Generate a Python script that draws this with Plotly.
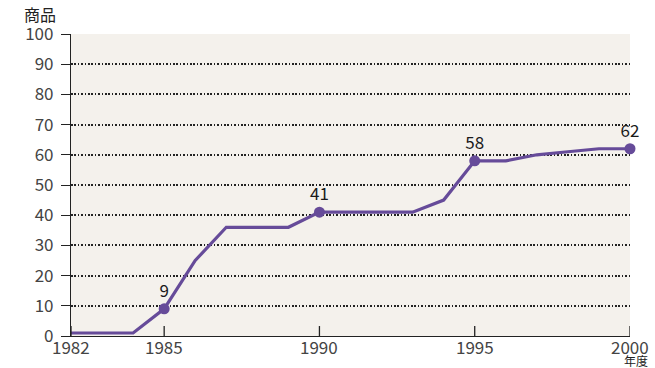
import plotly.graph_objects as go

years = list(range(1982, 2001))
counts = [1, 1, 1, 9, 25, 36, 36, 36, 41, 41, 41, 41, 45, 58, 58, 60, 61, 62, 62]
label_years = [1985, 1990, 1995, 2000]
label_values = [9, 41, 58, 62]
x_ticks = [1982, 1985, 1990, 1995, 2000]
y_ticks = list(range(0, 101, 10))

LINE = "#664b99"
FONT = "Noto Sans CJK JP"

fig = go.Figure()
fig.add_trace(go.Scatter(
    x=years, y=counts, mode="lines",
    line=dict(color=LINE, width=3.2), hoverinfo="skip", cliponaxis=False,
))
fig.add_trace(go.Scatter(
    x=label_years, y=label_values, mode="markers+text",
    marker=dict(color=LINE, size=11),
    text=[str(v) for v in label_values], textposition="top center",
    textfont=dict(family=FONT, size=17, color="#1a1a1a"),
    cliponaxis=False,
))

# year labels under the axis, set a little closer to the axis line
year_labels = [
    dict(text=str(yr), xref="x", yref="paper", x=yr, y=0, yshift=-10,
         xanchor="center", yanchor="middle", showarrow=False,
         font=dict(family=FONT, size=17, color="#444"))
    for yr in x_ticks
]

# short upward tick marks on the year axis
year_ticks = [
    dict(type="line", xref="x", yref="paper", x0=yr, x1=yr, y0=0, y1=0.033,
         line=dict(color="#222", width=1.3), layer="above")
    for yr in x_ticks
]

fig.update_layout(
    width=655, height=368,
    margin=dict(l=71, r=25, t=34, b=32),
    paper_bgcolor="white", plot_bgcolor="#f4f1ec",
    showlegend=False,
    font=dict(family=FONT, color="#333", size=17),
    xaxis=dict(
        range=[1982, 2000], tickvals=x_ticks, ticks="", showticklabels=False,
        showgrid=False, showline=True, linecolor="#222",
        linewidth=1.2, zeroline=False, automargin=False,
    ),
    yaxis=dict(
        range=[0, 100], tickvals=y_ticks, ticks="outside", ticklen=9,
        tickcolor="#222", showgrid=True, gridcolor="#222",
        griddash="1.6px,1.8px", gridwidth=1.6, showline=True,
        linecolor="#222", linewidth=1.2, zeroline=False, automargin=False,
        ticklabelstandoff=4, tickfont=dict(size=17, color="#444"),
    ),
    shapes=year_ticks,
    annotations=year_labels + [
        dict(text="商品", xref="paper", yref="paper", x=-0.055, y=1.0,
             yshift=20, xanchor="center", yanchor="middle", showarrow=False,
             font=dict(family=FONT, size=16, color="#222")),
        dict(text="年度", xref="x", yref="paper", x=2000, y=0, yshift=-24,
             xshift=6, xanchor="center", yanchor="middle", showarrow=False,
             font=dict(family=FONT, size=12, color="#222")),
    ],
)

fig.write_html("out.html")
